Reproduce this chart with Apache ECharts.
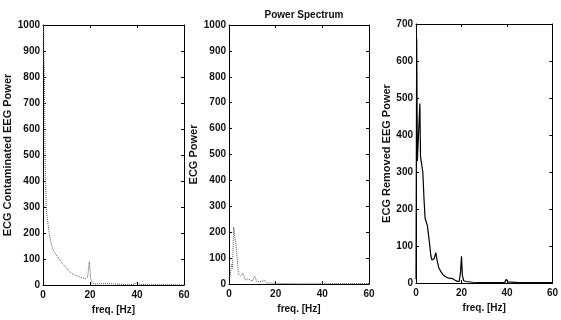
<!DOCTYPE html>
<html>
<head>
<meta charset="utf-8">
<script src="https://cdn.jsdelivr.net/npm/echarts@6/dist/echarts.min.js"></script>
<style>
  html, body { margin: 0; padding: 0; background: #fff; }
  #chart { width: 561px; height: 320px; }
</style>
</head>
<body>
<div id="chart"></div>
<script>
// [freq Hz, power]
const contaminated = [
  [0, 1400], [0.3, 900], [0.6, 800], [1, 420], [1.5, 280], [2, 275], [2.5, 210],
  [3, 180], [4, 140], [5, 125], [6, 110], [7, 98], [8, 85], [9, 75], [10, 65],
  [11, 55], [12, 46], [13, 40], [14, 37], [15, 34], [16, 30], [17, 27], [18, 24],
  [19, 30], [19.7, 90], [20.3, 25], [21, 5], [22, 4], [25, 5], [28, 5], [30, 4],
  [33, 3], [36, 2], [39, 3], [40, 12], [41, 3], [45, 1], [50, 1], [55, 1], [60, 0]
];
const ecg = [
  [0, 20], [0.5, 30], [1, 75], [1.5, 60], [2, 220], [2.5, 180], [3, 150],
  [3.5, 100], [4, 40], [5, 30], [6, 42], [7, 15], [8, 20], [10, 12], [11, 30],
  [12, 8], [14, 10], [15, 15], [16, 4], [20, 3], [21, 2], [30, 1], [39, 1],
  [40, 6], [41, 1], [50, 2], [60, 2]
];
const removed = [
  [0, 10], [0.3, 660], [0.6, 330], [1.2, 330], [1.7, 485], [2, 340], [2.5, 335],
  [3, 300], [3.5, 230], [4, 175], [5, 155], [5.5, 130], [6, 105], [6.5, 75],
  [7, 62], [8, 66], [8.7, 82], [9.3, 60], [10, 42], [11, 30], [12, 22], [13, 17],
  [14, 14], [16, 12], [17, 8], [18, 5], [19, 4], [19.6, 30], [20, 72], [20.4, 20],
  [21, 6], [22, 4], [25, 2], [30, 1], [35, 1], [39, 1], [39.7, 10], [40, 15],
  [40.4, 3], [41, 1], [45, 1], [50, 1], [55, 1], [60, 1]
];
const xTicks = { min: 0, max: 60, interval: 20 };
const yMax = [1000, 1000, 700];
const yNames = ['ECG Contaminated EEG Power', 'ECG Power', 'ECG Removed EEG Power'];
const yNameGaps = [26, 24, 20];

const grids = [
  { left: 43, top: 25, width: 141, height: 260 },
  { left: 229, top: 25, width: 140, height: 259 },
  { left: 416, top: 24, width: 139, height: 259 }
];

const chart = echarts.init(document.getElementById('chart'));
const font = 'Liberation Sans';
const labelStyle = { color: '#111', fontSize: 10, fontWeight: 'bold', fontFamily: font };
const frameLine = { onZero: false, lineStyle: { color: '#000', width: 1 } };
const ticks = { inside: true, length: 3, lineStyle: { color: '#000' } };

const xAxis = [];
const yAxis = [];
grids.forEach((g, i) => {
  xAxis.push({
    type: 'value', gridIndex: i, ...xTicks,
    name: 'freq. [Hz]', nameLocation: 'middle', nameGap: 19,
    nameTextStyle: { ...labelStyle },
    axisLine: frameLine, axisTick: ticks,
    axisLabel: { ...labelStyle, margin: 5 },
    splitLine: { show: false }
  });
  xAxis.push({
    type: 'value', gridIndex: i, ...xTicks, position: 'top',
    axisLine: frameLine, axisTick: ticks,
    axisLabel: { show: false }, splitLine: { show: false }
  });
  yAxis.push({
    type: 'value', gridIndex: i, min: 0, max: yMax[i], interval: 100,
    name: yNames[i], nameLocation: 'middle', nameGap: yNameGaps[i],
    nameTextStyle: { ...labelStyle, fontSize: 11 },
    axisLine: frameLine, axisTick: ticks,
    axisLabel: { ...labelStyle, margin: 3, formatter: v => String(v) },
    splitLine: { show: false }
  });
  yAxis.push({
    type: 'value', gridIndex: i, min: 0, max: yMax[i], interval: 100, position: 'right',
    axisLine: frameLine, axisTick: ticks,
    axisLabel: { show: false }, splitLine: { show: false }
  });
});

const faint = { color: '#555', width: 1, type: 'dotted' };

chart.setOption({
  backgroundColor: '#fff',
  animation: false,
  title: {
    text: 'Power Spectrum', left: 299, top: 5, textAlign: 'center',
    textStyle: { ...labelStyle, fontSize: 10 }
  },
  grid: grids,
  xAxis,
  yAxis,
  series: [
    { type: 'line', xAxisIndex: 0, yAxisIndex: 0, data: contaminated,
      showSymbol: false, lineStyle: faint },
    { type: 'line', xAxisIndex: 2, yAxisIndex: 2, data: ecg,
      showSymbol: false, lineStyle: faint },
    { type: 'line', xAxisIndex: 4, yAxisIndex: 4, data: removed,
      showSymbol: false, lineStyle: { color: '#000', width: 1.2 } }
  ]
});
</script>
</body>
</html>
